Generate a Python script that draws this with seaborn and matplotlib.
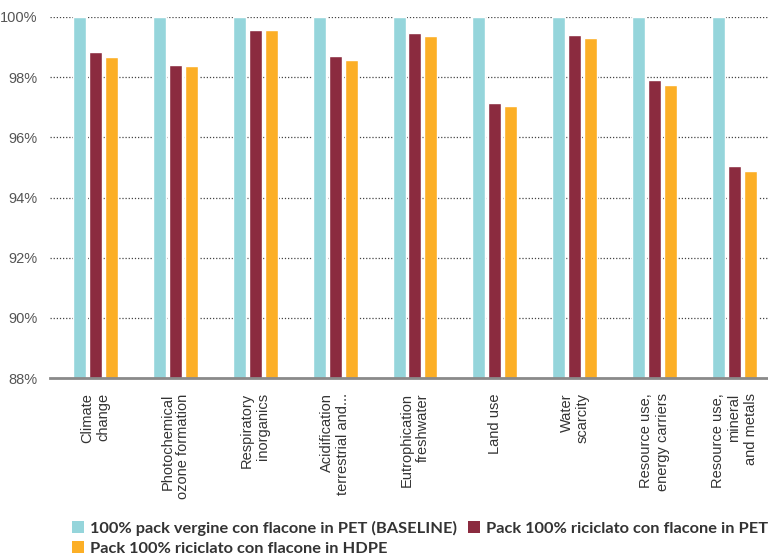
import matplotlib
matplotlib.use("Agg")
import matplotlib.pyplot as plt
import seaborn as sns
import pandas as pd
from matplotlib.ticker import FuncFormatter
from matplotlib.patches import Patch

categories = [
    "Climate\nchange",
    "Photochemical\nozone formation",
    "Respiratory\ninorganics",
    "Acidification\nterrestrial and...",
    "Eutrophication\nfreshwater",
    "Land use",
    "Water\nscarcity",
    "Resource use,\nenergy carriers",
    "Resource use,\nmineral\nand metals",
]
series_names = [
    "100% pack vergine con flacone in PET (BASELINE)",
    "Pack 100% riciclato con flacone in PET",
    "Pack 100% riciclato con flacone in HDPE",
]
baseline_pet = [100, 100, 100, 100, 100, 100, 100, 100, 100]
recycled_pet = [98.84, 98.41, 99.57, 98.70, 99.47, 97.14, 99.40, 97.91, 95.05]
recycled_hdpe = [98.67, 98.37, 99.57, 98.57, 99.37, 97.04, 99.30, 97.74, 94.88]
y_ticks = [88, 90, 92, 94, 96, 98, 100]

colors = ["#95D5DB", "#8B2B3F", "#FCAF26"]

df = pd.DataFrame({
    "categoria": categories * 3,
    "scenario": [series_names[0]] * 9 + [series_names[1]] * 9 + [series_names[2]] * 9,
    "valore": baseline_pet + recycled_pet + recycled_hdpe,
})

sns.set_theme(style="white")
plt.rcParams["font.family"] = ["Liberation Sans", "DejaVu Sans"]

fig = plt.figure(figsize=(7.68, 5.55), dpi=100)
ax = fig.add_axes([50 / 768, 1 - 378 / 555, 1 - 50 / 768, (378 - 17) / 555])

sns.barplot(
    data=df, x="categoria", y="valore", hue="scenario",
    hue_order=series_names, order=categories, palette=colors,
    width=0.6, gap=0.185, saturation=1, legend=False, ax=ax, zorder=3,
)

ax.set_ylim(88, 100)
ax.set_xlim(-0.57, 8.42)
ax.set_yticks(y_ticks)
ax.yaxis.set_major_formatter(FuncFormatter(lambda v, _: f"{v:.0f}%"))
ax.set_xlabel("")
ax.set_ylabel("")

for t in y_ticks[1:]:
    ax.axhline(t, color="#444444", lw=0.9, ls=(0, (1, 1.5)), zorder=1)

for side in ["top", "right", "left"]:
    ax.spines[side].set_visible(False)
ax.spines["bottom"].set_color("#8a8a8a")
ax.spines["bottom"].set_linewidth(2)
ax.spines["bottom"].set_zorder(4)

ax.tick_params(axis="both", length=0)
ax.tick_params(axis="y", labelsize=10.5, labelcolor="#555555", pad=9)
ax.tick_params(axis="x", pad=11)
for lbl in ax.get_xticklabels():
    lbl.set_rotation(90)
    lbl.set_ha("center")
    lbl.set_va("top")
    lbl.set_multialignment("right")
    lbl.set_fontsize(10.5)
    lbl.set_color("#333333")

handles = [Patch(facecolor=c, edgecolor="none") for c in colors]
order = [0, 2, 1]
fig.legend(
    [handles[i] for i in order], [series_names[i] for i in order],
    ncol=2, loc="upper left", bbox_to_anchor=(72 / 768, 1 - 521 / 555),
    frameon=False, handlelength=0.72, handleheight=0.72, handletextpad=0.35,
    columnspacing=0.7, labelspacing=0.3, borderaxespad=0, borderpad=0,
    prop={"family": ["Lato", "DejaVu Sans"], "weight": "bold", "size": 11.8},
    labelcolor="#333333",
)

fig.savefig("out.png", dpi=100)
